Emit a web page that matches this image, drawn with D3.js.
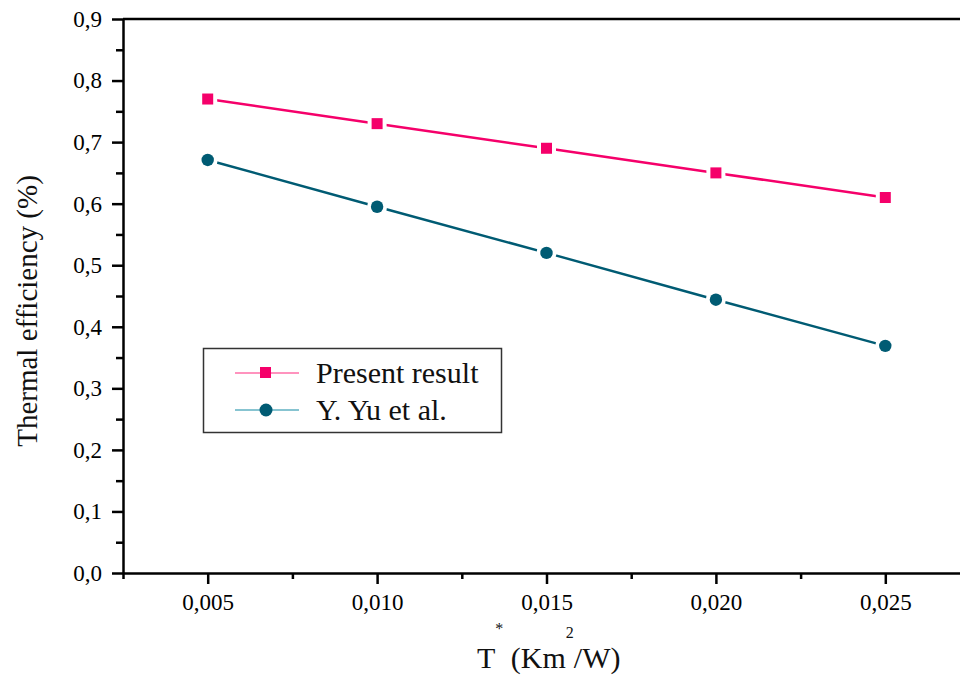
<!DOCTYPE html>
<html>
<head>
<meta charset="utf-8">
<script src="https://cdn.jsdelivr.net/npm/d3@7"></script>
<style>
  body { margin: 0; background: #fff; }
  svg { display: block; font-family: "Liberation Serif", "Times New Roman", serif; }
  .axis path, .axis line { stroke: #000; stroke-width: 2.5; }
</style>
</head>
<body>
<div id="chart"></div>
<script>
let xValues = [0.005, 0.010, 0.015, 0.020, 0.025];
let presentResult = [0.77, 0.73, 0.69, 0.65, 0.61];
let yuEtAl = [0.671, 0.595, 0.52, 0.444, 0.369];
let xTicks = [0.005, 0.010, 0.015, 0.020, 0.025];
let xMinorTicks = [0.0025, 0.0075, 0.0125, 0.0175, 0.0225, 0.0275];
let yTicks = [0, 0.1, 0.2, 0.3, 0.4, 0.5, 0.6, 0.7, 0.8, 0.9];
let yMinorTicks = [0.05, 0.15, 0.25, 0.35, 0.45, 0.55, 0.65, 0.75, 0.85];
let seriesNames = ["Present result", "Y. Yu et al."];

let width = 960, height = 676;
let plotLeft = 123, plotTop = 19, plotBottom = 573;
let serif = "'Liberation Serif', 'Times New Roman', serif";

let pink = "#f5006a";
let teal = "#005b73";

let svg = d3.select("#chart")
    .append("svg")
    .attr("width", width)
    .attr("height", height);

let xScale = d3.scaleLinear().domain([0.0025, 0.0275]).range([plotLeft, 970]);
let yScale = d3.scaleLinear().domain([0, 0.9]).range([plotBottom, plotTop]);

let comma = (f) => (d) => d3.format(f)(d).replace(".", ",");

// minor ticks first so the major axis sits on top
svg.append("g")
    .attr("class", "axis")
    .attr("transform", "translate(0," + plotBottom + ")")
    .call(d3.axisBottom(xScale).tickValues(xMinorTicks).tickSize(6).tickFormat(""))
    .select(".domain").remove();

svg.append("g")
    .attr("class", "axis")
    .attr("transform", "translate(" + plotLeft + ",0)")
    .call(d3.axisLeft(yScale).tickValues(yMinorTicks).tickSize(7).tickFormat(""))
    .select(".domain").remove();

let xAxisG = svg.append("g")
    .attr("class", "axis")
    .attr("transform", "translate(0," + plotBottom + ")")
    .call(d3.axisBottom(xScale).tickValues(xTicks).tickSize(11).tickSizeOuter(0).tickPadding(10).tickFormat(comma(".3f")));

let yAxisG = svg.append("g")
    .attr("class", "axis")
    .attr("transform", "translate(" + plotLeft + ",0)")
    .call(d3.axisLeft(yScale).tickValues(yTicks).tickSize(11).tickSizeOuter(0).tickPadding(10).tickFormat(comma(".1f")));

[xAxisG, yAxisG].forEach((g) => {
    g.attr("font-family", serif).attr("font-size", 23);
    g.selectAll("text")
        .style("font-family", serif)
        .style("font-size", "23px")
        .attr("fill", "#000");
});

// top frame line
svg.append("line")
    .attr("x1", plotLeft).attr("x2", width)
    .attr("y1", plotTop).attr("y2", plotTop)
    .attr("stroke", "#000")
    .attr("stroke-width", 2.5);

// series
let line = d3.line()
    .x((d, i) => xScale(xValues[i]))
    .y((d) => yScale(d));

svg.append("path")
    .datum(presentResult)
    .attr("d", line)
    .attr("fill", "none")
    .attr("stroke", pink)
    .attr("stroke-width", 2.5);

svg.append("path")
    .datum(yuEtAl)
    .attr("d", line)
    .attr("fill", "none")
    .attr("stroke", teal)
    .attr("stroke-width", 2.5);

// white halo gives the small gap between line and marker
svg.selectAll(".sqhalo")
    .data(presentResult)
    .enter()
    .append("rect")
    .attr("x", (d, i) => xScale(xValues[i]) - 9.5)
    .attr("y", (d) => yScale(d) - 9.5)
    .attr("width", 19)
    .attr("height", 19)
    .attr("fill", "#fff");

svg.selectAll(".sq")
    .data(presentResult)
    .enter()
    .append("rect")
    .attr("x", (d, i) => xScale(xValues[i]) - 5.5)
    .attr("y", (d) => yScale(d) - 5.5)
    .attr("width", 11)
    .attr("height", 11)
    .attr("fill", pink);

svg.selectAll(".cihalo")
    .data(yuEtAl)
    .enter()
    .append("circle")
    .attr("cx", (d, i) => xScale(xValues[i]))
    .attr("cy", (d) => yScale(d))
    .attr("r", 10)
    .attr("fill", "#fff");

svg.selectAll(".ci")
    .data(yuEtAl)
    .enter()
    .append("circle")
    .attr("cx", (d, i) => xScale(xValues[i]))
    .attr("cy", (d) => yScale(d))
    .attr("r", 6.2)
    .attr("fill", teal);

// legend
svg.append("rect")
    .attr("x", 203.5)
    .attr("y", 348.5)
    .attr("width", 298)
    .attr("height", 84)
    .attr("fill", "#fff")
    .attr("stroke", "#333")
    .attr("stroke-width", 1.5);

svg.append("line")
    .attr("x1", 235).attr("x2", 299)
    .attr("y1", 373).attr("y2", 373)
    .attr("stroke", "#ff6fa8")
    .attr("stroke-width", 1.5);

svg.append("rect")
    .attr("x", 260).attr("y", 367)
    .attr("width", 11).attr("height", 11)
    .attr("fill", pink);

svg.append("text")
    .attr("x", 316)
    .attr("y", 383)
    .attr("font-size", 30)
    .attr("fill", "#111")
    .text(seriesNames[0]);

svg.append("line")
    .attr("x1", 235).attr("x2", 299)
    .attr("y1", 410).attr("y2", 410)
    .attr("stroke", "#5fb0c2")
    .attr("stroke-width", 1.5);

svg.append("circle")
    .attr("cx", 266).attr("cy", 410)
    .attr("r", 6.5)
    .attr("fill", teal);

svg.append("text")
    .attr("x", 316)
    .attr("y", 420)
    .attr("font-size", 30)
    .attr("fill", "#111")
    .text(seriesNames[1]);

// axis titles
svg.append("text")
    .attr("transform", "translate(37,311) rotate(-90)")
    .attr("text-anchor", "middle")
    .attr("font-size", 29)
    .attr("fill", "#111")
    .text("Thermal efficiency (%)");

let xt = svg.append("text")
    .attr("x", 477)
    .attr("y", 668)
    .attr("font-size", 30)
    .attr("fill", "#111");
xt.append("tspan").text("T");
xt.append("tspan").attr("dy", -34).attr("font-size", 16).text("*");
xt.append("tspan").attr("dy", 34).text(" (Km");
xt.append("tspan").attr("dy", -30).attr("font-size", 16).text("2");
xt.append("tspan").attr("dy", 30).text("/W)");
</script>
</body>
</html>
